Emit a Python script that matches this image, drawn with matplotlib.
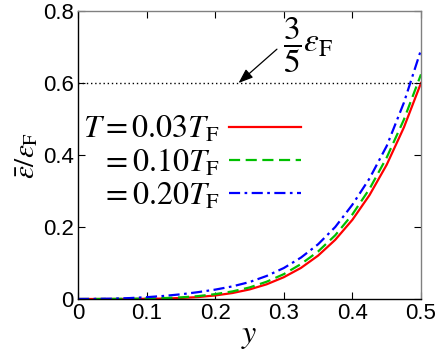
import matplotlib
matplotlib.use("Agg")
import matplotlib.pyplot as plt

plt.rcParams["mathtext.fontset"] = "stix"
plt.rcParams["font.family"] = ["Liberation Sans", "DejaVu Sans"]

# mean energy / eps_F against y
y_vals = [0.0, 0.025, 0.05, 0.075, 0.1, 0.125, 0.15, 0.175, 0.2, 0.225, 0.25,
          0.275, 0.3, 0.325, 0.35, 0.375, 0.4, 0.425, 0.45, 0.475, 0.5]
e_003 = [0.0, 0.0, 0.0, 0.0001, 0.0005, 0.0012, 0.0028, 0.0053, 0.0098, 0.0165, 0.0265,
         0.0408, 0.0605, 0.0863, 0.1205, 0.1644, 0.2200, 0.2888, 0.3730, 0.4763, 0.6000]
e_010 = [0.0, 0.0001, 0.0003, 0.0006, 0.0013, 0.0025, 0.0045, 0.0080, 0.0135, 0.0210, 0.0320,
         0.0480, 0.0690, 0.0970, 0.1320, 0.1770, 0.2350, 0.3060, 0.3930, 0.4980, 0.6240]
e_020 = [0.0, 0.0003, 0.0010, 0.0025, 0.0050, 0.0085, 0.0130, 0.0190, 0.0260, 0.0350, 0.0470,
         0.0640, 0.0860, 0.1150, 0.1520, 0.2000, 0.2620, 0.3350, 0.4250, 0.5450, 0.6920]
labels = [r"$T = 0.03T_{\rm F}$", r"$= 0.10T_{\rm F}$", r"$= 0.20T_{\rm F}$"]
e_fermi_ratio = 3 / 5

fig = plt.figure(figsize=(4.36, 3.54), dpi=100)
ax = fig.add_axes([0.1789, 0.1554, 0.7867, 0.8135])

ax.plot(y_vals, e_003, color="#ff0000", lw=1.6, ls="-", label=labels[0])
ax.plot(y_vals, e_010, color="#00c000", lw=1.6, ls=(0, (5, 2.5)), label=labels[1])
ax.plot(y_vals, e_020, color="#0000ff", lw=1.6, ls=(0, (5, 2, 1.2, 2)), label=labels[2])
ax.plot([0, 0.5], [e_fermi_ratio, e_fermi_ratio], color="k", lw=1.0, ls=(0, (1, 2)))

# 3/5 eps_F label with arrow pointing at the dotted line
ax.text(0.336, 0.705, r"$\dfrac{3}{5}\varepsilon_{\rm F}$", fontsize=24, ha="center", va="center")
ax.annotate("", xy=(0.234, e_fermi_ratio), xytext=(0.290, 0.694),
            arrowprops=dict(arrowstyle="-|>,head_length=0.8,head_width=0.3", color="k", lw=0.9,
                            shrinkA=0, shrinkB=0, mutation_scale=11))

ax.set_xlim(0, 0.5)
ax.set_ylim(0, 0.8)
ax.set_xticks([0, 0.1, 0.2, 0.3, 0.4, 0.5])
ax.set_xticklabels(["0", "0.1", "0.2", "0.3", "0.4", "0.5"])
ax.set_yticks([0, 0.2, 0.4, 0.6, 0.8])
ax.set_yticklabels(["0", "0.2", "0.4", "0.6", "0.8"])
ax.tick_params(direction="in", top=True, right=True, length=5, width=0.8,
               labelsize=16, colors="k", pad=3)
for s in ["top", "right"]:
    ax.spines[s].set_color("0.5")
for s in ax.spines.values():
    s.set_linewidth(1.0)

ax.set_xlabel(r"$y$", fontsize=23, labelpad=-2)
ax.set_ylabel(r"$\bar{\varepsilon}/\varepsilon_{\rm F}$", fontsize=21, labelpad=2)

leg = ax.legend(loc="upper right", bbox_to_anchor=(0.65, 0.64), frameon=False,
                markerfirst=False, fontsize=23, handlelength=2.25, handletextpad=0.28,
                labelspacing=0.08, borderpad=0, borderaxespad=0)

fig.savefig("out.png", dpi=100)
